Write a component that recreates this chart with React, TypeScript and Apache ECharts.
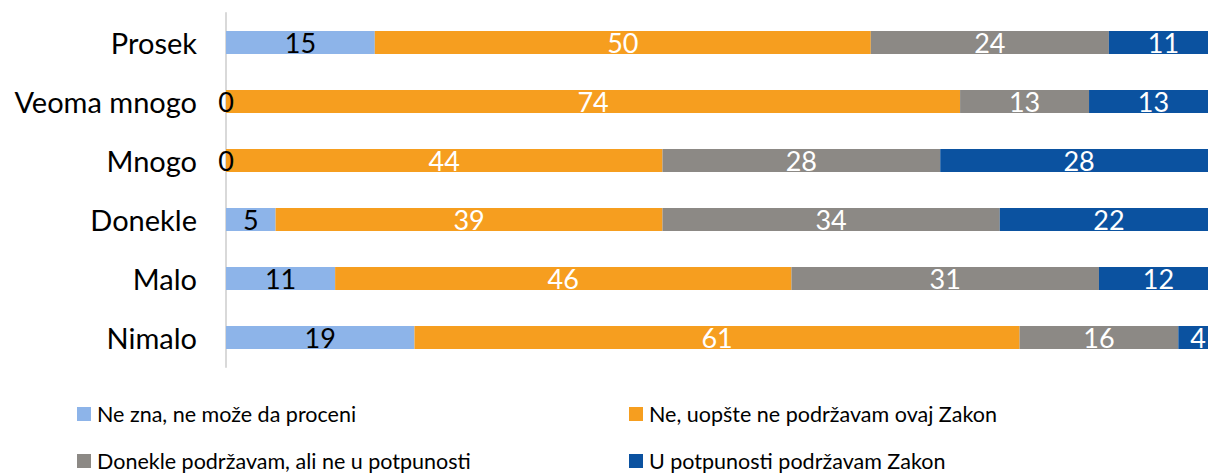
import React, { useEffect, useRef } from "react";
import * as echarts from "echarts";

const categories = ["Prosek", "Veoma mnogo", "Mnogo", "Donekle", "Malo", "Nimalo"];
const seriesNames = [
  "Ne zna, ne može da proceni",
  "Ne, uopšte ne podržavam ovaj Zakon",
  "Donekle podržavam, ali ne u potpunosti",
  "U potpunosti podržavam Zakon",
];
const neZna = [15, 0, 0, 5, 11, 19];
const neUopste = [50, 74, 44, 39, 46, 61];
const donekle = [24, 13, 28, 34, 31, 16];
const uPotpunosti = [11, 13, 28, 22, 12, 4];
const colors = ["#8DB4E9", "#F69E1F", "#8C8985", "#0B52A0"];
const labelColors = ["#000000", "#ffffff", "#ffffff", "#ffffff"];

const FONT = "Lato, 'Open Sans', sans-serif";

const legendPos = [
  { left: 77, top: 403 },
  { left: 629, top: 403 },
  { left: 77, top: 450 },
  { left: 629, top: 450 },
];

export default function App() {
  const ref = useRef<HTMLDivElement>(null);
  useEffect(() => {
    document.body.style.margin = "0";
    document.body.style.overflow = "hidden";
    const chart = echarts.init(ref.current!, null, { renderer: "svg" });
    const values = [neZna, neUopste, donekle, uPotpunosti];
    chart.setOption({
      animation: false,
      textStyle: { fontFamily: FONT },
      grid: { left: 226, top: 13, height: 354, width: 992 },
      xAxis: { type: "value", min: 0, max: 100, show: false },
      yAxis: {
        type: "category",
        data: categories,
        inverse: true,
        axisLine: { show: true, lineStyle: { color: "#D9D9D9", width: 2 } },
        axisTick: { show: false },
        axisLabel: { color: "#000", fontSize: 29, margin: 29, fontFamily: FONT },
      },
      legend: seriesNames.map((name, i) => ({
        left: legendPos[i].left,
        top: legendPos[i].top,
        padding: 0,
        itemWidth: 14,
        itemHeight: 14,
        itemGap: 0,
        icon: "rect",
        data: [name],
        textStyle: { fontSize: 21.5, color: "#000", fontFamily: FONT, padding: [0, 0, 0, 1] },
      })),
      series: seriesNames.map((name, i) => ({
        name,
        type: "bar",
        stack: "total",
        barWidth: 23,
        data: values[i],
        itemStyle: { color: colors[i] },
        label: {
          show: true,
          position: "inside",
          color: labelColors[i],
          fontSize: 27,
          fontFamily: FONT,
        },
      })),
    });
    return () => chart.dispose();
  }, []);
  return <div ref={ref} style={{ width: 1240, height: 473 }} />;
}
